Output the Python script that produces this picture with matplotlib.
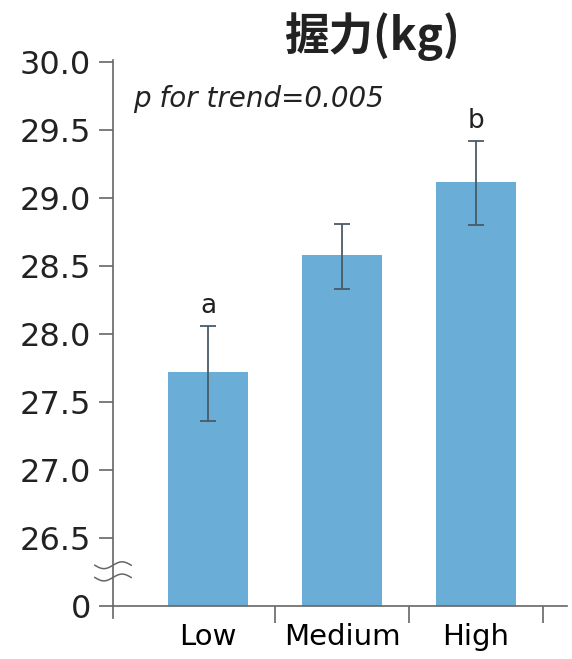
#!/usr/bin/env python3
# -*- coding: utf-8 -*-

import numpy as np
import matplotlib
matplotlib.use("Agg")
import matplotlib.pyplot as plt

# --- data ---
groups = ["Low", "Medium", "High"]
grip_mean = [27.72, 28.58, 29.12]
err_low = [27.36, 28.33, 28.80]
err_high = [28.06, 28.81, 29.42]
sig_letters = ["a", "", "b"]
ytick_vals = [26.5, 27.0, 27.5, 28.0, 28.5, 29.0, 29.5, 30.0]
ytick_labels = ["26.5", "27.0", "27.5", "28.0", "28.5", "29.0", "29.5", "30.0"]
BREAK_BASE = 26.0  # "0" is drawn here, below the axis break

plt.rcParams["font.family"] = ["DejaVu Sans"]

W, H = 572, 659
fig = plt.figure(figsize=(W / 100, H / 100), dpi=100)
ax = fig.add_axes([113 / W, 41 / H, (567 - 113) / W, (618 - 60) / H])

x = np.arange(len(groups))
bar_col = "#6aaed8"
txt_col = "#222222"
ax.bar(x, np.array(grip_mean) - BREAK_BASE, bottom=BREAK_BASE, width=0.6,
       color=bar_col, zorder=2)
mean = np.array(grip_mean)
yerr = [mean - np.array(err_low), np.array(err_high) - mean]
ax.errorbar(x, mean, yerr=yerr, fmt="none", ecolor="#4a5a66", elinewidth=1.3,
            capsize=6, capthick=1.3, zorder=3)

for xi, lab, top in zip(x, sig_letters, err_high):
    if lab:
        ax.text(xi, top + 0.05, lab, ha="center", va="bottom", fontsize=19,
                color=txt_col)

ax.set_xlim(-0.71, 2.68)
ax.set_ylim(25.912, 30.015)

ax.set_yticks([BREAK_BASE] + ytick_vals)
ax.set_yticklabels(["0"] + ytick_labels, color=txt_col)
ax.set_xticks(x + 0.5)
ax.set_xticklabels([])
ax.set_xticks(x, minor=True)
ax.set_xticklabels(groups, minor=True, color=txt_col)
ax.tick_params(axis="x", which="minor", length=0, pad=12, labelsize=21)
ax.tick_params(axis="x", which="major", length=12, width=1.2, color="#666666",
               direction="out")
ax.tick_params(axis="y", length=10, width=1.2, color="#666666", pad=6,
               labelsize=23)

for s in ("top", "right"):
    ax.spines[s].set_visible(False)
ax.spines["bottom"].set_position(("data", BREAK_BASE))
for s in ("left", "bottom"):
    ax.spines[s].set_color("#666666")
    ax.spines[s].set_linewidth(1.2)

# axis break marks (two wavy lines across the y axis)
trans = ax.get_yaxis_transform()
wx = np.linspace(-0.04, 0.04, 60)
for yb in (26.30, 26.21):
    ax.plot(wx, yb + 0.025 * np.sin(wx / 0.04 * np.pi), transform=trans,
            color="#666666", lw=1.1, clip_on=False, zorder=5)

ax.text(0.045, 0.93, "p for trend=0.005", transform=ax.transAxes,
        fontsize=20, style="italic", color=txt_col, ha="left", va="center")

fig.text(372 / W, 1 - 37 / H, "握力(kg)", ha="center", va="center",
         fontsize=32, fontweight="bold", color=txt_col,
         family=["Noto Sans CJK JP", "DejaVu Sans"])

fig.savefig("out.png", dpi=100, facecolor="white")
plt.close(fig)
